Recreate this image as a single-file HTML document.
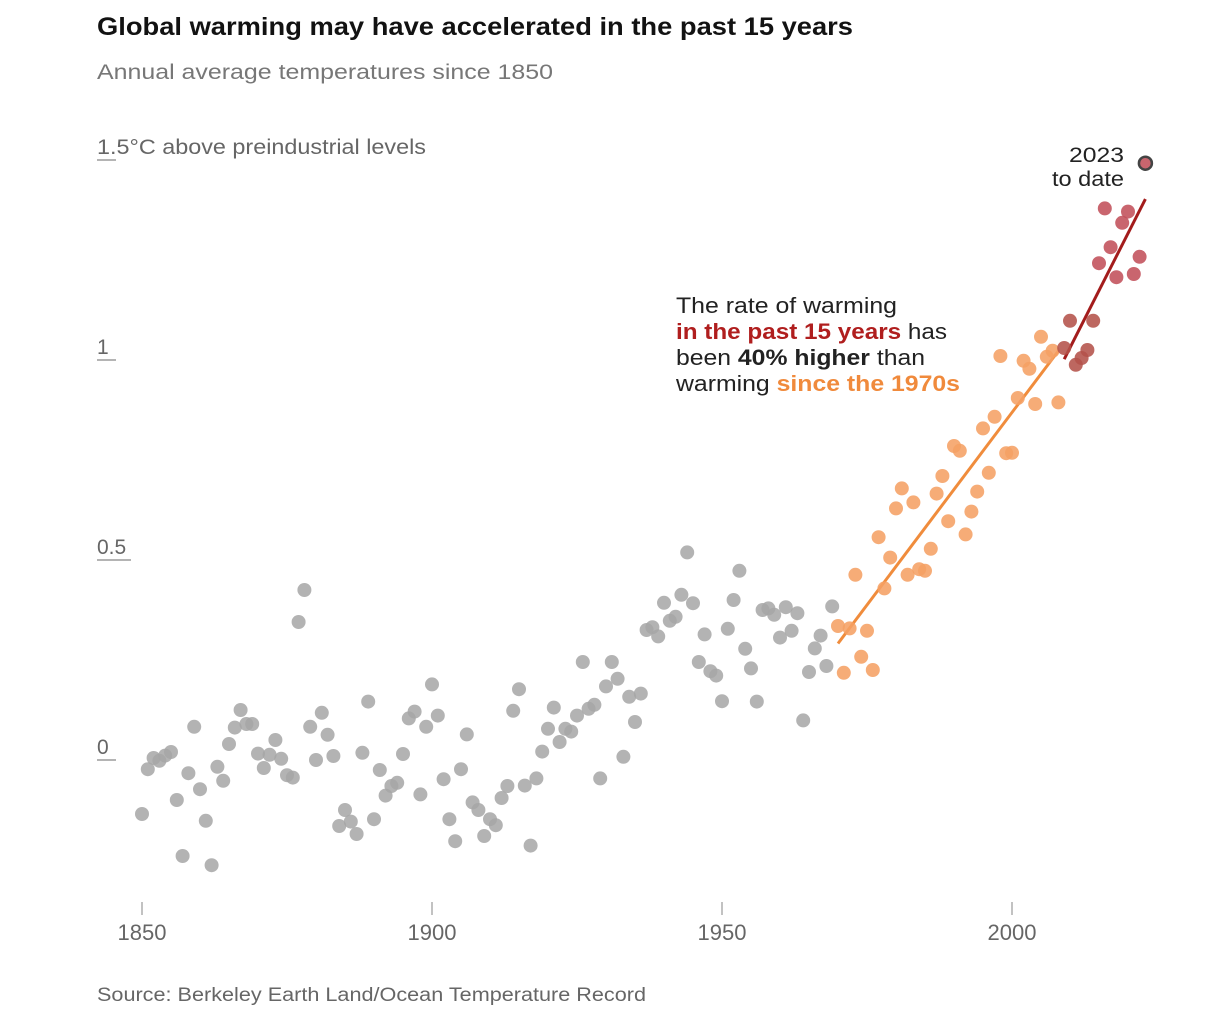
<!DOCTYPE html>
<html><head><meta charset="utf-8">
<style>
html,body{margin:0;padding:0;background:#fff;}
body{width:1224px;height:1016px;overflow:hidden;font-family:"Liberation Sans",sans-serif;}
svg text{font-family:"Liberation Sans",sans-serif;}
</style></head>
<body>
<svg id="chart" width="1224" height="1016" viewBox="0 0 1224 1016" xmlns="http://www.w3.org/2000/svg">
  <text x="97" y="35" font-size="25" font-weight="bold" fill="#121212" textLength="756" lengthAdjust="spacingAndGlyphs">Global warming may have accelerated in the past 15 years</text>
  <text x="97" y="79" font-size="21" fill="#777" textLength="456" lengthAdjust="spacingAndGlyphs">Annual average temperatures since 1850</text>
  <g id="yaxis"></g>
  <g id="xaxis"></g>
  <g id="trends"></g>
  <g id="dots"></g>
  <g font-size="22" fill="#222">
    <text x="676" y="313" textLength="221" lengthAdjust="spacingAndGlyphs">The rate of warming</text>
    <text x="676" y="339" textLength="271" lengthAdjust="spacingAndGlyphs"><tspan fill="#b01e1e" font-weight="bold">in the past 15 years</tspan> has</text>
    <text x="676" y="365" textLength="249" lengthAdjust="spacingAndGlyphs">been <tspan font-weight="bold">40% higher</tspan> than</text>
    <text x="676" y="391" textLength="284" lengthAdjust="spacingAndGlyphs">warming <tspan fill="#f08a3c" font-weight="bold">since the 1970s</tspan></text>
  </g>
  <g font-size="21" fill="#222">
    <text x="1069" y="162" textLength="55" lengthAdjust="spacingAndGlyphs">2023</text>
    <text x="1052" y="186" textLength="72" lengthAdjust="spacingAndGlyphs">to date</text>
  </g>
  <text x="97" y="1001" font-size="19" fill="#666" textLength="549" lengthAdjust="spacingAndGlyphs">Source: Berkeley Earth Land/Ocean Temperature Record</text>
</svg>
<script>
const startYear = 1850;
const temps = [
-0.14,-0.028,0,-0.007,0.006,0.015,-0.105,-0.245,-0.038,0.078,
-0.078,-0.157,-0.268,-0.022,-0.057,0.035,0.076,0.12,0.085,0.085,
0.011,-0.025,0.008,0.045,-0.002,-0.043,-0.049,0.34,0.42,0.078,
-0.005,0.113,0.058,0.005,-0.17,-0.13,-0.159,-0.19,0.013,0.141,
-0.153,-0.03,-0.094,-0.07,-0.062,0.01,0.099,0.116,-0.091,0.078,
0.184,0.106,-0.053,-0.153,-0.208,-0.028,0.059,-0.111,-0.13,-0.195,
-0.153,-0.168,-0.1,-0.07,0.118,0.172,-0.069,-0.219,-0.051,0.016,
0.073,0.126,0.04,0.073,0.066,0.106,0.24,0.123,0.133,-0.051,
0.179,0.24,0.198,0.003,0.153,0.09,0.161,0.32,0.327,0.304,
0.388,0.343,0.353,0.408,0.514,0.387,0.24,0.309,0.217,0.206,
0.142,0.323,0.395,0.468,0.273,0.224,0.141,0.37,0.374,0.358,
0.301,0.377,0.318,0.362,0.094,0.215,0.274,0.306,0.23,0.379,
0.33,0.213,0.324,0.458,0.253,0.318,0.22,0.552,0.424,0.501,
0.624,0.674,0.458,0.639,0.472,0.468,0.523,0.661,0.705,0.592,
0.78,0.768,0.559,0.616,0.666,0.824,0.713,0.853,1.005,0.762,
0.763,0.9,0.993,0.973,0.885,1.053,1.003,1.018,0.889,1.025,
1.093,0.983,1.0,1.02,1.093,1.237,1.374,1.277,1.202,1.338,
1.366,1.21,1.253,1.487
];
const yTicks = [0, 0.5, 1, 1.5];
const yTickLabels = ["0", "0.5", "1", "1.5°C above preindustrial levels"];
const xTicks = [1850, 1900, 1950, 2000];
const periods = [1970, 2009];

const NS = "http://www.w3.org/2000/svg";
function x(yr){ return 142 + (yr - 1850) * 5.8; }
function y(v){ return 758 - v * 400; }
function mk(tag, attrs, parent){ const e=document.createElementNS(NS,tag); for(const k in attrs) e.setAttribute(k, attrs[k]); parent.appendChild(e); return e; }

const yg = document.getElementById('yaxis');
yTicks.forEach((t,i)=>{
  const g = mk('g',{},yg);
  
  
  const tx = mk('text',{x:97,y:y(t)-4,'font-size':21,fill:'#666'},g);
  tx.textContent = yTickLabels[i];
  if(yTickLabels[i].length > 5){ tx.setAttribute('textLength', 329); tx.setAttribute('lengthAdjust','spacingAndGlyphs'); }
  const lw = yTickLabels[i]==="0.5" ? 34 : 19;
  mk('line',{x1:97,x2:97+lw,y1:y(t)+2,y2:y(t)+2,stroke:'#888','stroke-width':1.2},g);
});
const xg = document.getElementById('xaxis');
xTicks.forEach(t=>{
  const g = mk('g',{},xg);
  
  
  mk('line',{x1:x(t),x2:x(t),y1:902,y2:915,stroke:'#999','stroke-width':1.2},g);
  const tx = mk('text',{x:x(t),y:940,'font-size':22,fill:'#666','text-anchor':'middle'},g);
  tx.textContent = t;
});

function fit(a,b){
  const xs=[],ys=[];
  for(let yr=a; yr<=b; yr++){ const v=temps[yr-startYear]; if(v!==undefined){xs.push(yr);ys.push(v);} }
  const n=xs.length, mx=xs.reduce((s,v)=>s+v,0)/n, my=ys.reduce((s,v)=>s+v,0)/n;
  let num=0,den=0; for(let i=0;i<n;i++){num+=(xs[i]-mx)*(ys[i]-my);den+=(xs[i]-mx)**2;}
  const m=num/den; return {a:xs[0], b:xs[n-1], f:yr=>my+m*(yr-mx)};
}
const lastYear = startYear + temps.length - 1;
const tg = document.getElementById('trends');
const f1 = fit(periods[0], periods[1]-1);
const l1 = mk('line',{x1:x(f1.a),y1:y(f1.f(f1.a)),x2:x(f1.b),y2:y(f1.f(f1.b)),stroke:'#f08c3c','stroke-width':3},tg);



const dg = document.getElementById('dots');
temps.forEach((v,i)=>{
  const yr = startYear + i;
  let fill='#a6a6a6', op=0.85, stroke='none';
  if(yr>=periods[1]){ fill = yr<=2014 ? '#b4524a' : '#c2505a'; op=0.88; }
  else if(yr>=periods[0]){ fill='#f5a064'; op=0.88; }
  if(yr===lastYear){ stroke='#444'; }
  const c = mk('circle',{cx:x(yr),cy:y(v),r:7,fill:fill,'fill-opacity':op},dg);
  if(stroke!=='none'){ c.setAttribute('stroke',stroke); c.setAttribute('stroke-width',2.5); c.setAttribute('r',6.5); }
  
  
});
const f2 = fit(periods[1], lastYear);
const l2 = mk('line',{x1:x(f2.a),y1:y(f2.f(f2.a)),x2:x(f2.b),y2:y(f2.f(f2.b)),stroke:'#a31c1c','stroke-width':3},tg);


</script>
</body></html>
